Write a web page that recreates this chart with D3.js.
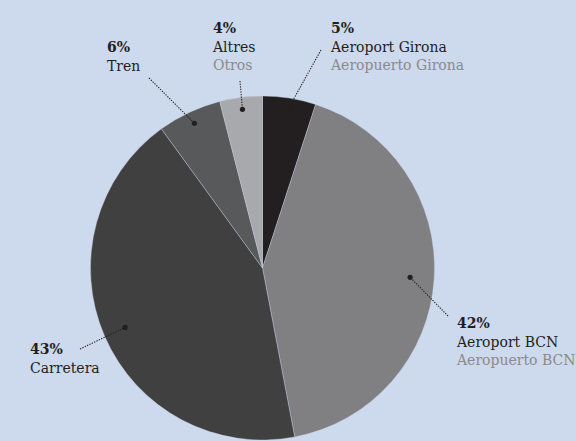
<!DOCTYPE html>
<html><head><meta charset="utf-8">
<script src="https://cdn.jsdelivr.net/npm/d3@7"></script>
<style>
html,body{margin:0;padding:0;background:#cdd9ec;}
svg{display:block;}
text{font-family:"DejaVu Serif",serif;font-size:14px;}
</style></head>
<body>
<svg id="c" width="576" height="441"></svg>
<script>
const categories = ["Aeroport Girona","Aeroport BCN","Carretera","Tren","Altres"];
const categoriesEs = ["Aeropuerto Girona","Aeropuerto BCN","","","Otros"];
const values = [5,42,43,6,4];
const colors = ["#231f20","#808083","#404041","#58595b","#a7a9ac"];
// label anchor (x, first baseline) and leader start, dot radius fraction
const labelPos = [[331,33],[457,328],[30,354],[107,52],[213,33]];
const leaderStart = [[321,50],[448,316],[80,349],[149,78],[240,81]];
const dotFrac = [0.93,0.86,0.87,0.93,0.93];

const svg = d3.select("#c");
const cx = 262.5, cy = 268, R = 172;
const g = svg.append("g").attr("transform",`translate(${cx},${cy})`);
const pie = d3.pie().sort(null).value(d=>d)(values);
const arc = d3.arc().innerRadius(0).outerRadius(R);
g.selectAll("path").data(pie).join("path")
  .attr("d",arc).attr("fill",(d,i)=>colors[i])
  .attr("stroke","#cdd9ec").attr("stroke-width",0.6).attr("stroke-opacity",0.6);

pie.forEach((d,i)=>{
  const a = (d.startAngle+d.endAngle)/2;
  const r = R*dotFrac[i];
  const px = cx + r*Math.sin(a), py = cy - r*Math.cos(a);
  const [sx,sy] = leaderStart[i];
  svg.append("line").attr("x1",sx).attr("y1",sy).attr("x2",px).attr("y2",py)
    .attr("stroke","#231f20").attr("stroke-width",1.1).attr("stroke-dasharray","1.3,1.3");
  svg.append("circle").attr("cx",px).attr("cy",py).attr("r",2.6).attr("fill","#231f20");
  const [lx,ly] = labelPos[i];
  svg.append("text").attr("x",lx).attr("y",ly).attr("font-weight","bold").attr("fill","#231f20").text(values[i]+"%");
  svg.append("text").attr("x",lx).attr("y",ly+19).attr("fill","#231f20").text(categories[i]);
  if (categoriesEs[i]) svg.append("text").attr("x",lx).attr("y",ly+37).attr("fill","#8a8a8c").text(categoriesEs[i]);
});
</script>
</body></html>
